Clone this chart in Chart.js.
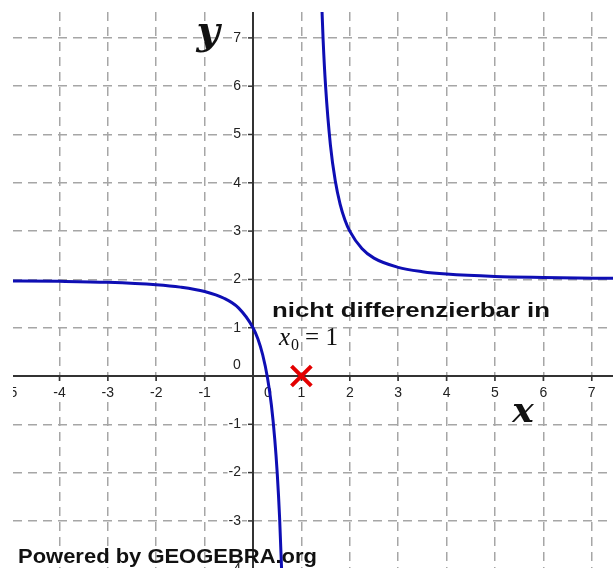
<!DOCTYPE html>
<html>
<head>
<meta charset="utf-8">
<script src="https://cdn.jsdelivr.net/npm/chart.js@4/dist/chart.umd.min.js"></script>
<style>
  body { margin: 0; background: #fff; }
  canvas { display: block; }
</style>
</head>
<body>
<canvas id="graph" width="613" height="568"></canvas>
<script>
// linker Ast
const leftX = [-5.2, -4, -3, -2, -1.5, -1, -0.6, -0.3, 0, 0.1, 0.2, 0.3, 0.38, 0.45, 0.5, 0.55, 0.6];
const leftY = [1.97, 1.96, 1.94, 1.89, 1.84, 1.75, 1.61, 1.41, 1.0, 0.77, 0.44, -0.04, -0.6, -1.31, -2.0, -2.94, -4.25];
// rechter Ast
const rightX = [1.4, 1.45, 1.5, 1.6, 1.7, 1.8, 1.9, 2.0, 2.25, 2.5, 3, 3.5, 4, 5, 6, 7.6];
const rightY = [8.25, 6.94, 6.0, 4.78, 4.04, 3.56, 3.23, 3.0, 2.64, 2.44, 2.25, 2.16, 2.11, 2.06, 2.04, 2.02];
// Markierung x0 = 1
const markX = [1];
const markY = [0];
// Achsenbeschriftung
const xTicks = [-5, -4, -3, -2, -1, 1, 2, 3, 4, 5, 6, 7];
const yTicks = [-4, -3, -2, -1, 1, 2, 3, 4, 5, 6, 7];

const pts = (xs, ys) => xs.map((x, i) => ({ x: x, y: ys[i] }));

function fitText(ctx, text, x, baseline, width, font) {
    ctx.font = font;
    const w = ctx.measureText(text).width;
    ctx.save();
    ctx.translate(x, baseline);
    ctx.scale(width / w, 1);
    ctx.textAlign = 'left';
    ctx.textBaseline = 'alphabetic';
    ctx.fillText(text, 0, 0);
    ctx.restore();
}

const axesPlugin = {
    id: 'axes',
    beforeDatasetsDraw(chart) {
        const ctx = chart.ctx, a = chart.chartArea;
        const sx = chart.scales.x, sy = chart.scales.y;
        const x0 = sx.getPixelForValue(0), y0 = sy.getPixelForValue(0);
        ctx.save();
        ctx.beginPath();
        ctx.rect(a.left, a.top, a.right - a.left, a.bottom - a.top);
        ctx.clip();

        ctx.strokeStyle = '#333';
        ctx.lineWidth = 2;
        ctx.beginPath();
        ctx.moveTo(a.left, y0); ctx.lineTo(a.right, y0);
        ctx.moveTo(x0, a.top); ctx.lineTo(x0, a.bottom);
        ctx.stroke();

        ctx.font = '14px "Liberation Sans", Arial, sans-serif';
        ctx.textBaseline = 'middle';
        ctx.lineWidth = 1.5;
        xTicks.forEach(v => {
            const px = sx.getPixelForValue(v);
            ctx.beginPath(); ctx.moveTo(px, y0); ctx.lineTo(px, y0 + 5); ctx.stroke();
            const t = String(v), w = ctx.measureText(t).width;
            ctx.fillStyle = '#fff';
            ctx.fillRect(px - w / 2 - 1, y0 + 9, w + 2, 16);
            ctx.fillStyle = '#222';
            ctx.textAlign = 'center';
            ctx.fillText(t, px, y0 + 17);
        });
        yTicks.forEach(v => {
            const py = sy.getPixelForValue(v);
            ctx.beginPath(); ctx.moveTo(x0 - 5, py); ctx.lineTo(x0, py); ctx.stroke();
            const t = String(v), w = ctx.measureText(t).width;
            ctx.fillStyle = '#fff';
            ctx.fillRect(x0 - 12 - w - 1, py - 8, w + 2, 16);
            ctx.fillStyle = '#222';
            ctx.textAlign = 'right';
            ctx.fillText(t, x0 - 12, py);
        });
        // Nullpunkt
        ctx.textAlign = 'center';
        ctx.fillText('0', x0 - 16, y0 - 11);
        ctx.fillText('0', x0 + 15, y0 + 17);
        ctx.restore();

        // Powered by
        ctx.save();
        ctx.fillStyle = '#111';
        fitText(ctx, 'Powered by GEOGEBRA.org', 18, 563, 299, 'bold 21px "Liberation Sans", Arial, sans-serif');
        ctx.restore();
    },
    afterDatasetsDraw(chart) {
        const ctx = chart.ctx;
        ctx.save();
        ctx.fillStyle = '#111';
        // Achsennamen
        ctx.textAlign = 'center';
        ctx.textBaseline = 'alphabetic';
        ctx.font = 'bold italic 40px "DejaVu Serif", serif';
        ctx.fillText('y', 208, 44);
        ctx.font = 'bold italic 36px "DejaVu Serif", serif';
        ctx.fillText('x', 523, 422);

        fitText(ctx, 'nicht differenzierbar in', 272, 317, 278, 'bold 21px "Liberation Sans", Arial, sans-serif');

        // x_0 = 1
        let x = 279;
        ctx.textAlign = 'left';
        ctx.font = 'italic 25px "Liberation Serif", serif';
        ctx.fillText('x', x, 345);
        x += ctx.measureText('x').width + 1;
        ctx.font = '16px "Liberation Serif", serif';
        ctx.fillText('0', x, 350);
        x += ctx.measureText('0').width + 6;
        ctx.font = '25px "Liberation Serif", serif';
        ctx.fillText('= 1', x, 345);
        ctx.restore();
    }
};

const noSize = (scale) => { scale.width = scale.isHorizontal() ? scale.width : 0; if (scale.isHorizontal()) scale.height = 0; };

new Chart(document.getElementById('graph'), {
    type: 'scatter',
    data: {
        datasets: [{
            data: pts(leftX, leftY),
            showLine: true,
            borderColor: '#0e0eb4',
            borderWidth: 3,
            pointRadius: 0,
            cubicInterpolationMode: 'monotone'
        }, {
            data: pts(rightX, rightY),
            showLine: true,
            borderColor: '#0e0eb4',
            borderWidth: 3,
            pointRadius: 0,
            cubicInterpolationMode: 'monotone'
        }, {
            data: pts(markX, markY),
            pointStyle: 'crossRot',
            pointRadius: 14,
            pointBorderWidth: 4,
            borderColor: '#e30000',
            backgroundColor: '#e30000'
        }]
    },
    plugins: [axesPlugin],
    options: {
        responsive: false,
        animation: false,
        devicePixelRatio: 1,
        layout: { autoPadding: false, padding: { left: 13, top: 12, right: 0, bottom: 0 } },
        plugins: { legend: { display: false }, tooltip: { enabled: false } },
        scales: {
            x: {
                type: 'linear', min: -4.96, max: 7.44,
                afterFit: noSize,
                ticks: { display: false, stepSize: 1, includeBounds: false },
                grid: { color: '#a6a6a6', lineWidth: 1.5, drawTicks: false },
                border: { display: false, dash: [9, 6] }
            },
            y: {
                type: 'linear', min: -3.975, max: 7.536,
                afterFit: noSize,
                ticks: { display: false, stepSize: 1, includeBounds: false },
                grid: { color: '#a6a6a6', lineWidth: 1.5, drawTicks: false },
                border: { display: false, dash: [9, 6] }
            }
        }
    }
});
</script>
</body>
</html>
